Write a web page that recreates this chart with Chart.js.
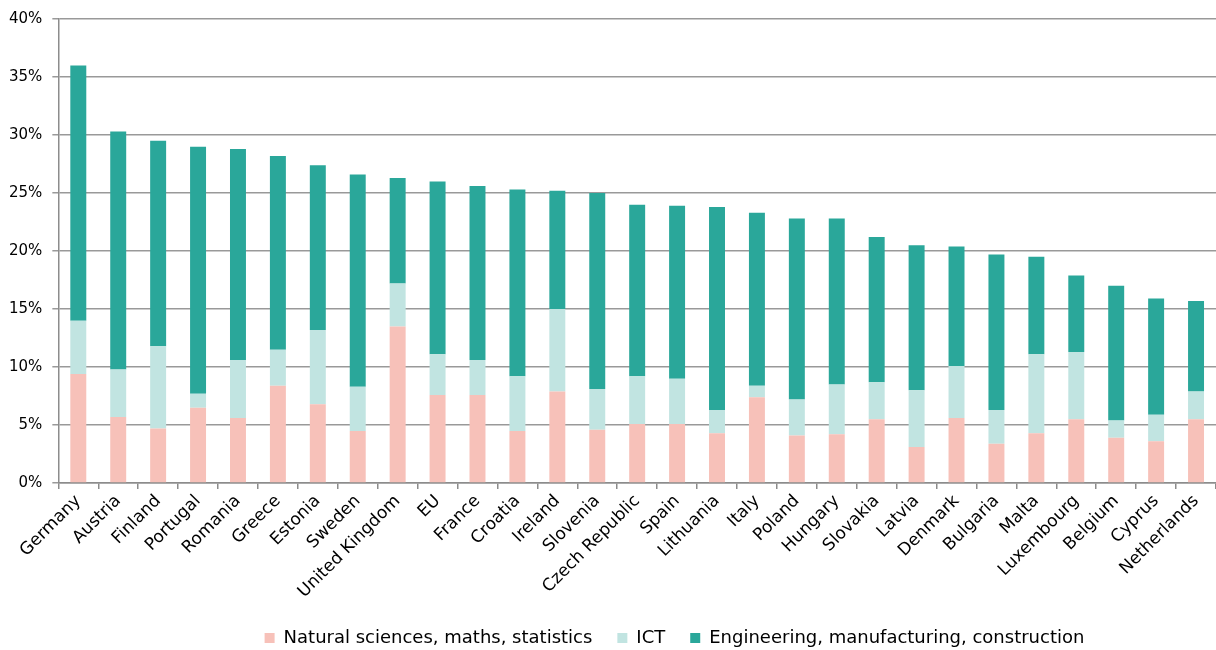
<!DOCTYPE html>
<html lang="en">
<head>
    <meta charset="UTF-8">
    <title>Graduates by field</title>
    <style>
        html, body { margin: 0; padding: 0; background: #fff; overflow: hidden; }
        #chart-container { width: 1216px; height: 650px; }
    </style>
</head>
<body>
    <div id="chart-container">
        <canvas id="myChart"></canvas>
    </div>
    <script src="https://cdn.jsdelivr.net/npm/chart.js"></script>
    <script>
        // categories and values (% of graduates)
        const countries = ['Germany','Austria','Finland','Portugal','Romania','Greece','Estonia','Sweden','United Kingdom','EU',
            'France','Croatia','Ireland','Slovenia','Czech Republic','Spain','Lithuania','Italy','Poland','Hungary',
            'Slovakia','Latvia','Denmark','Bulgaria','Malta','Luxembourg','Belgium','Cyprus','Netherlands'];
        const naturalSciences = [9.4,5.7,4.7,6.5,5.6,8.4,6.8,4.5,13.5,7.6, 7.6,4.5,7.9,4.6,5.1,5.1,4.3,7.4,4.1,4.2, 5.5,3.1,5.6,3.4,4.3,5.5,3.9,3.6,5.5];
        const ict = [4.6,4.1,7.1,1.2,5.0,3.1,6.4,3.8,3.7,3.5, 3.0,4.7,7.1,3.5,4.1,3.9,2.0,1.0,3.1,4.3, 3.2,4.9,4.5,2.9,6.8,5.8,1.5,2.3,2.4];
        const engineering = [22.0,20.5,17.7,21.3,18.2,16.7,14.2,18.3,9.1,14.9, 15.0,16.1,10.2,16.9,14.8,14.9,17.5,14.9,15.6,14.3, 12.5,12.5,10.3,13.4,8.4,6.6,11.6,10.0,7.8];
        const yTicks = [0,5,10,15,20,25,30,35,40];

        const fontFamily = "'DejaVu Sans', Verdana, sans-serif";

        // legend in the original sits right of centre
        const legendShift = {
            id: 'legendShift',
            afterLayout(chart) {
                chart.legend.left += 67;
                chart.legend.right += 67;
            }
        };

        const ctx = document.getElementById('myChart').getContext('2d');
        new Chart(ctx, {
            type: 'bar',
            data: {
                labels: countries,
                datasets: [
                    { label: 'Natural sciences, maths, statistics', data: naturalSciences, backgroundColor: '#F7C1B9' },
                    { label: 'ICT', data: ict, backgroundColor: '#C1E4E1' },
                    { label: 'Engineering, manufacturing, construction', data: engineering, backgroundColor: '#2AA79A' }
                ]
            },
            plugins: [legendShift],
            options: {
                responsive: true,
                maintainAspectRatio: false,
                animation: false,
                datasets: { bar: { barPercentage: 0.4, categoryPercentage: 1.0 } },
                layout: { padding: { top: 10, left: -1, right: 0, bottom: -7 } },
                plugins: {
                    legend: {
                        position: 'bottom',
                        labels: {
                            boxWidth: 10,
                            boxHeight: 10,
                            padding: 25,
                            color: '#000',
                            font: { family: fontFamily, size: 18 }
                        }
                    },
                    tooltip: { enabled: false }
                },
                scales: {
                    x: {
                        stacked: true,
                        grid: {
                            display: true,
                            drawOnChartArea: false,
                            drawTicks: true,
                            tickLength: 6,
                            color: '#8c8c8c',
                            lineWidth: 1.5
                        },
                        border: { color: '#8c8c8c', width: 1.5 },
                        ticks: {
                            color: '#000',
                            autoSkip: false,
                            maxRotation: 45,
                            minRotation: 45,
                            padding: 2,
                            font: { family: fontFamily, size: 17 }
                        }
                    },
                    y: {
                        stacked: true,
                        min: 0,
                        max: 40,
                        afterBuildTicks: axis => { axis.ticks = yTicks.map(v => ({ value: v })); },
                        grid: {
                            color: '#999',
                            lineWidth: 1.5,
                            tickLength: 6
                        },
                        border: { color: '#8c8c8c', width: 1.5 },
                        ticks: {
                            color: '#000',
                            padding: 10,
                            font: { family: fontFamily, size: 15 },
                            callback: v => v + '%'
                        }
                    }
                }
            }
        });
    </script>
</body>
</html>
